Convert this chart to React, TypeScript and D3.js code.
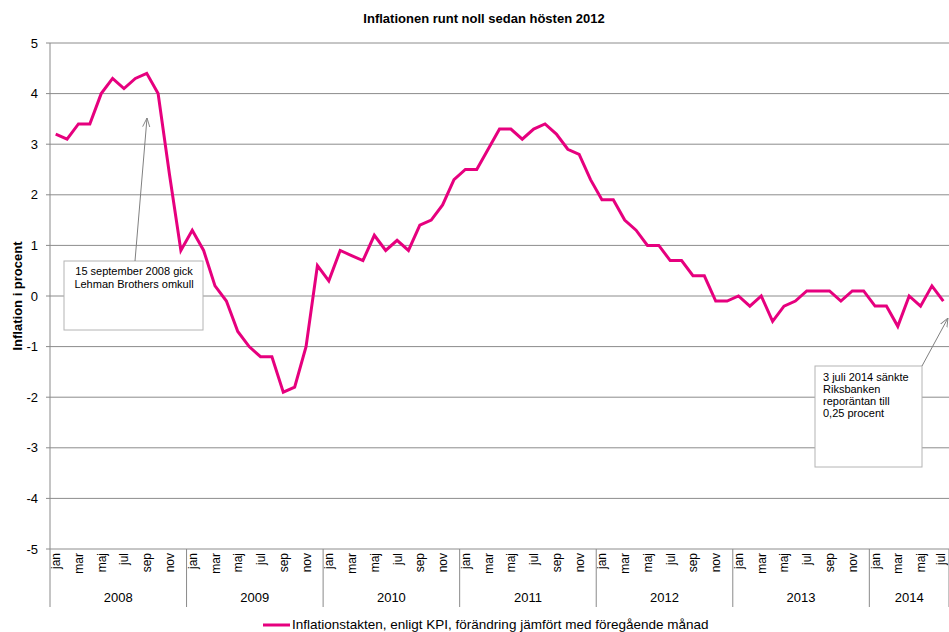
import React, { useRef, useEffect } from 'react';
import * as d3 from 'd3';

const years = ['2008', '2009', '2010', '2011', '2012', '2013', '2014'];
const monthNames = ['jan', 'feb', 'mar', 'apr', 'maj', 'jun', 'jul', 'aug', 'sep', 'okt', 'nov', 'dec'];

const v2008 = [3.2, 3.1, 3.4, 3.4, 4.0, 4.3, 4.1, 4.3, 4.4, 4.0, 2.4, 0.9];
const v2009 = [1.3, 0.9, 0.2, -0.1, -0.7, -1.0, -1.2, -1.2, -1.9, -1.8, -1.0, 0.6];
const v2010 = [0.3, 0.9, 0.8, 0.7, 1.2, 0.9, 1.1, 0.9, 1.4, 1.5, 1.8, 2.3];
const v2011 = [2.5, 2.5, 2.9, 3.3, 3.3, 3.1, 3.3, 3.4, 3.2, 2.9, 2.8, 2.3];
const v2012 = [1.9, 1.9, 1.5, 1.3, 1.0, 1.0, 0.7, 0.7, 0.4, 0.4, -0.1, -0.1];
const v2013 = [0.0, -0.2, 0.0, -0.5, -0.2, -0.1, 0.1, 0.1, 0.1, -0.1, 0.1, 0.1];
const v2014 = [-0.2, -0.2, -0.6, 0.0, -0.2, 0.2, -0.1];

const yTicks = [5, 4, 3, 2, 1, 0, -1, -2, -3, -4, -5];

const title = 'Inflationen runt noll sedan hösten 2012';
const yTitle = 'Inflation i procent';
const seriesName = 'Inflationstakten, enligt KPI, förändring jämfört med föregående månad';
const note1 = ['15 september 2008 gick', 'Lehman Brothers omkull'];
const note2 = ['3 juli 2014 sänkte', 'Riksbanken', 'reporäntan till', '0,25 procent'];

const W = 949;
const H = 632;

const App: React.FC = () => {
    const ref = useRef<SVGSVGElement | null>(null);

    useEffect(() => {
        const svg = d3.select(ref.current);
        svg.selectAll('*').remove();

        const values = [v2008, v2009, v2010, v2011, v2012, v2013, v2014];
        const data: { key: string; month: string; year: string; value: number }[] = [];
        values.forEach((arr, yi) => {
            arr.forEach((v, mi) => {
                data.push({ key: `${years[yi]}-${mi}`, month: monthNames[mi], year: years[yi], value: v });
            });
        });

        const left = 50, right = 949, top = 43, bottom = 549;
        const font = 'Liberation Sans, Arial, sans-serif';

        const x = d3.scaleBand<string>()
            .domain(data.map((d) => d.key))
            .range([left, right])
            .padding(0);
        const y = d3.scaleLinear().domain([-5, 5]).range([bottom, top]);
        const cx = (k: string) => (x(k) as number) + x.bandwidth() / 2;

        svg.append('rect').attr('width', W).attr('height', H).attr('fill', '#fff');

        // title
        svg.append('text')
            .attr('x', 484).attr('y', 23)
            .attr('text-anchor', 'middle')
            .style('font-family', font).style('font-size', '13px').style('font-weight', 'bold')
            .text(title);

        // gridlines
        svg.append('g').selectAll('line')
            .data(yTicks)
            .enter()
            .append('line')
            .attr('x1', left).attr('x2', right)
            .attr('y1', (d) => y(d)).attr('y2', (d) => y(d))
            .attr('stroke', '#8c8c8c')
            .attr('stroke-width', 1);

        // y axis
        const ya = svg.append('g');
        ya.append('line')
            .attr('x1', left).attr('x2', left).attr('y1', top).attr('y2', bottom)
            .attr('stroke', '#8a8a8a');
        ya.selectAll('line.tick')
            .data(yTicks)
            .enter()
            .append('line')
            .attr('class', 'tick')
            .attr('x1', left - 4).attr('x2', left)
            .attr('y1', (d) => y(d)).attr('y2', (d) => y(d))
            .attr('stroke', '#8a8a8a');
        ya.selectAll('text')
            .data(yTicks)
            .enter()
            .append('text')
            .attr('x', 38)
            .attr('y', (d) => y(d))
            .attr('dy', '0.35em')
            .attr('text-anchor', 'end')
            .style('font-family', font).style('font-size', '13px')
            .text((d) => d);

        svg.append('text')
            .attr('transform', `translate(22,${(top + bottom) / 2}) rotate(-90)`)
            .attr('text-anchor', 'middle')
            .style('font-family', font).style('font-size', '13px').style('font-weight', 'bold')
            .text(yTitle);

        // x axis month labels (every other month)
        const xa = svg.append('g');
        xa.selectAll('text')
            .data(data.filter((d) => monthNames.indexOf(d.month) % 2 === 0))
            .enter()
            .append('text')
            .attr('transform', (d) => `translate(${Math.min(cx(d.key) + 4.5, right - 4)},${bottom + 4}) rotate(-90)`)
            .attr('text-anchor', 'end')
            .style('font-family', font).style('font-size', '12px')
            .text((d) => d.month);

        // year separators
        const yearStarts = years.map((yr) => x(`${yr}-0`) as number);
        xa.selectAll('line.sep')
            .data([...yearStarts, right])
            .enter()
            .append('line')
            .attr('class', 'sep')
            .attr('x1', (d) => d).attr('x2', (d) => d)
            .attr('y1', bottom).attr('y2', 607)
            .attr('stroke', '#8a8a8a');

        xa.selectAll('text.year')
            .data(years)
            .enter()
            .append('text')
            .attr('class', 'year')
            .attr('x', (yr, i) => {
                const n = values[i].length;
                const x0 = x(`${yr}-0`) as number;
                const x1 = (x(`${yr}-${n - 1}`) as number) + x.bandwidth();
                return (x0 + x1) / 2;
            })
            .attr('y', 602)
            .attr('text-anchor', 'middle')
            .style('font-family', font).style('font-size', '13px')
            .text((d) => d);

        // series line
        const line = d3.line<{ key: string; value: number }>()
            .x((d) => cx(d.key))
            .y((d) => y(d.value));
        svg.append('path')
            .datum(data)
            .attr('d', line)
            .attr('fill', 'none')
            .attr('stroke', '#e6007e')
            .attr('stroke-width', 3)
            .attr('stroke-linejoin', 'miter');

        // annotations
        const defs = svg.append('defs');
        defs.append('marker')
            .attr('id', 'arrow')
            .attr('viewBox', '0 0 10 10')
            .attr('refX', 10).attr('refY', 5)
            .attr('markerWidth', 9).attr('markerHeight', 9)
            .attr('orient', 'auto')
            .append('path')
            .attr('d', 'M0,1 L10,5 L0,9')
            .attr('fill', 'none')
            .attr('stroke', '#808080')
            .attr('stroke-width', 1);

        const drawNote = (bx: number, by: number, bw: number, bh: number, lines: string[],
            ax0: number, ay0: number, ax1: number, ay1: number, tx: number, ty: number, anchor: string, lh: number) => {
            const g = svg.append('g');
            g.append('rect')
                .attr('x', bx).attr('y', by).attr('width', bw).attr('height', bh)
                .attr('fill', '#fff').attr('stroke', '#b4b4b4');
            g.append('line')
                .attr('x1', ax0).attr('y1', ay0).attr('x2', ax1).attr('y2', ay1)
                .attr('stroke', '#808080').attr('stroke-width', 1)
                .attr('marker-end', 'url(#arrow)');
            g.selectAll('text')
                .data(lines)
                .enter()
                .append('text')
                .attr('x', tx)
                .attr('y', (d, i) => ty + i * lh)
                .attr('text-anchor', anchor)
                .style('font-family', font).style('font-size', '11px')
                .text((d) => d);
        };

        drawNote(64, 261, 139, 69, note1, 135, 261, 147, 118, 134, 275, 'middle', 13);
        drawNote(815, 366, 107, 101, note2, 922, 366, 948, 318, 823, 381, 'start', 12);

        // legend
        svg.append('line')
            .attr('x1', 263).attr('x2', 290).attr('y1', 625).attr('y2', 625)
            .attr('stroke', '#e6007e').attr('stroke-width', 3);
        svg.append('text')
            .attr('x', 292).attr('y', 629)
            .style('font-family', font).style('font-size', '13.5px')
            .text(seriesName);
    }, []);

    return (
        <svg ref={ref} width={W} height={H} style={{ position: 'absolute', left: 0, top: 0 }} />
    );
};

export default App;
